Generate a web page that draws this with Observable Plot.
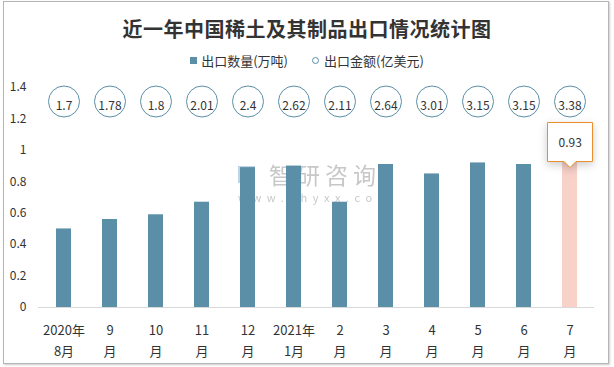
<!DOCTYPE html>
<html>
<head>
<meta charset="utf-8">
<script src="https://cdn.jsdelivr.net/npm/d3@7"></script>
<script src="https://cdn.jsdelivr.net/npm/@observablehq/plot@0.6"></script>
<style>
  html, body { margin: 0; padding: 0; background: #fff; }
  #wrap { position: relative; width: 614px; height: 367px; overflow: hidden; font-family: "Noto Sans CJK SC", "Noto Sans", sans-serif; color: #333; }
  #border { position: absolute; left: 3px; top: 1px; width: 604px; height: 361px; border: 1px solid #b5b5b5; box-shadow: 1px 1px 2px #ccc; }
  #title { position: absolute; left: 0; top: 14px; width: 614px; text-align: center; font-size: 20px; font-weight: bold; color: #333; letter-spacing: 0.5px; }
  #legend { position: absolute; left: 0; top: 51px; width: 614px; display: flex; justify-content: center; align-items: center; font-size: 13px; color: #333; }
  #legend .item { display: flex; align-items: center; margin: 0 12px; }
  #legend .sq { width: 7px; height: 7px; background: #5b8fa8; margin-right: 4px; }
  #legend .ci { width: 5px; height: 5px; border: 1px solid #5b8fa8; border-radius: 50%; margin-right: 5px; }
  #wm { position: absolute; left: 238px; top: 161px; color: #9a9a9a; opacity: 0.55; }
  #wm .row { display: flex; align-items: center; height: 26px; }
  #wm .logo { width: 17px; height: 17px; background: #6f9cc6; margin-right: 14px; opacity: 0.8; }
  #wm .cn { font-size: 23px; letter-spacing: 5px; line-height: 26px; }
  #wm .url { font-size: 11px; letter-spacing: 5.6px; line-height: 13px; margin-top: 4px; }
  #chart { position: absolute; left: 0; top: 0; }
</style>
</head>
<body>
<div id="wrap">
  <div id="border"></div>
  <div id="wm"><div class="row"><div class="logo"></div><div class="cn">智研咨询</div></div><div class="url">www.chyxx.com</div></div>
  <div id="chart"></div>
  <div id="title">近一年中国稀土及其制品出口情况统计图</div>
  <div id="legend">
    <div class="item"><div class="sq"></div><span>出口数量(万吨)</span></div>
    <div class="item"><div class="ci"></div><span>出口金额(亿美元)</span></div>
  </div>
</div>
<script>
const months = ["2020年\n8月", "9\n月", "10\n月", "11\n月", "12\n月", "2021年\n1月", "2\n月", "3\n月", "4\n月", "5\n月", "6\n月", "7\n月"];
const volumes = [0.50, 0.56, 0.59, 0.67, 0.89, 0.90, 0.67, 0.91, 0.85, 0.92, 0.91, 0.93];
const amounts = [1.7, 1.78, 1.8, 2.01, 2.4, 2.62, 2.11, 2.64, 3.01, 3.15, 3.15, 3.38];
const yTicks = [0, 0.2, 0.4, 0.6, 0.8, 1, 1.2, 1.4];

const data = months.map((m, i) => ({
  month: m,
  volume: volumes[i],
  amount: amounts[i],
  latest: i === months.length - 1 ? "latest" : "past"
}));

const chart = Plot.plot({
  width: 614,
  height: 367,
  marginLeft: 38,
  marginRight: 20,
  marginTop: 87,
  marginBottom: 60,
  style: { fontFamily: "'Noto Sans CJK SC', 'Noto Sans', sans-serif", fontSize: "12px", color: "#333", background: "transparent" },
  x: { domain: months, paddingInner: 0.68, paddingOuter: 0.34, axis: null, label: null },
  y: { domain: [0, 1.4], axis: null, label: null },
  color: { domain: ["past", "latest"], range: ["#5b8fa8", "#f8d1c9"] },
  marks: [
    Plot.axisY({ ticks: yTicks, tickFormat: d => String(+d.toFixed(1)), tickSize: 0, tickPadding: 12, fontSize: 12, label: null }),
    Plot.axisX({ tickSize: 0, tickPadding: 12, fontSize: 13, lineHeight: 1.65, label: null }),
    Plot.barY(data, { x: "month", y: "volume", fill: "latest" }),
    Plot.ruleY([0], { stroke: "#d9d9d9" }),
    Plot.dot(data, { x: "month", frameAnchor: "top", dy: 14, r: 15.5, stroke: "#5b8fa8", strokeWidth: 1, fill: "white" }),
    Plot.text(data, { x: "month", frameAnchor: "top", dy: 14, text: d => String(d.amount), fontSize: 12, fill: "#333" }),
    Plot.tip(data.filter(d => d.latest === "latest"), {
      x: "month", y: "volume", dy: 6, anchor: "bottom",
      title: d => d.volume.toFixed(2),
      stroke: "#e8902e", fill: "white", textPadding: 11, fontSize: 12
    })
  ]
});
document.getElementById("chart").appendChild(chart);
</script>
</body>
</html>
